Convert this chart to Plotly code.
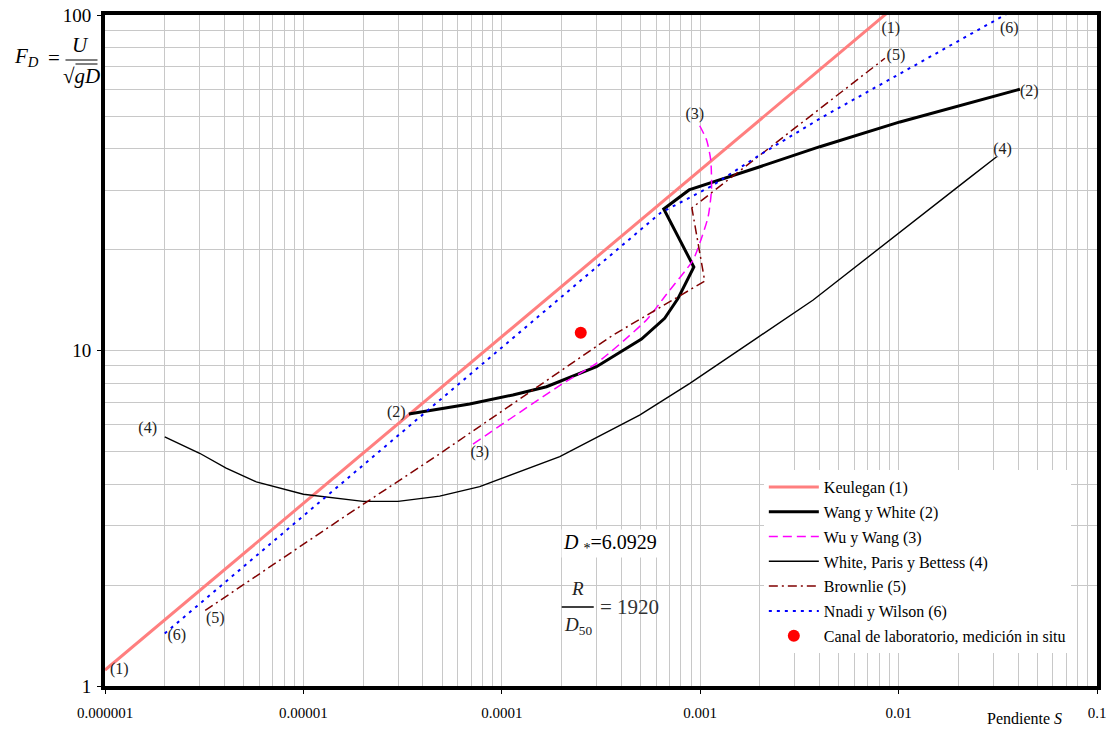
import plotly.graph_objects as go

# Pendiente S (x) y número de Froude densimétrico F_D (y) para cada criterio
keulegan_s = [1.0e-6, 1.0e-2]
keulegan_f = [1.116, 108.3]

wang_white_s = [3.40e-5, 6.89e-5, 1.137e-4, 1.68e-4, 3.00e-4, 5.06e-4, 6.62e-4,
                7.74e-4, 9.29e-4, 6.55e-4, 8.79e-4, 1.117e-3, 2.0e-3, 4.01e-3,
                1.016e-2, 4.09e-2]
wang_white_f = [6.47, 6.93, 7.37, 7.80, 8.95, 10.82, 12.47, 14.31, 17.74, 26.4,
                30.1, 31.5, 35.3, 40.5, 48.0, 60.1]

wu_wang_s = [7.16e-5, 2.04e-4, 3.00e-4, 5.36e-4, 6.72e-4, 9.20e-4, 9.95e-4,
             1.096e-3, 1.14e-3, 1.13e-3, 1.077e-3, 9.84e-4]
wu_wang_f = [5.26, 7.99, 9.16, 12.33, 14.64, 18.6, 20.9, 25.0, 30.1, 37.0, 42.4, 47.3]

wpb_s = [2.0e-6, 3.0e-6, 4.08e-6, 5.79e-6, 1.0e-5, 2.0e-5, 3.0e-5, 4.86e-5, 7.74e-5,
         1.96e-4, 4.95e-4, 8.87e-4, 1.92e-3, 3.71e-3, 2.20e-2, 3.12e-2]
wpb_f = [5.53, 4.94, 4.46, 4.06, 3.73, 3.55, 3.55, 3.68, 3.93, 4.83, 6.42, 7.98,
         10.87, 14.14, 32.2, 37.8]

brownlie_s = [3.2e-6, 1.614e-5, 4.76e-5, 3.64e-4, 1.054e-3, 9.08e-4, 8.53e-3]
brownlie_f = [1.68, 3.20, 4.88, 11.12, 16.1, 26.6, 74.3]

nnadi_s = [2.0e-6, 9.94e-6, 3.56e-5, 3.18e-4, 5.26e-4, 6.3e-4, 1.14e-3, 2.0e-3,
           4.15e-3, 3.64e-2]
nnadi_f = [1.434, 3.20, 6.07, 18.2, 23.4, 25.7, 30.9, 38.3, 49.7, 102.0]

canal_s = [2.5e-4]
canal_f = [11.3]

# Etiquetas numeradas junto a los extremos de cada curva
label_s = [1.18e-6, 9.14e-3, 3.6e-6, 9.69e-3, 2.3e-6, 3.61e-2, 2.94e-5, 4.56e-2,
           7.74e-5, 9.39e-4, 1.64e-6, 3.34e-2]
label_f = [1.116, 90.6, 1.58, 75.5, 1.41, 90.6, 6.50, 59.1, 4.94, 50.4, 5.82, 39.6]
label_txt = ["(1)", "(1)", "(5)", "(5)", "(6)", "(6)", "(2)", "(2)", "(3)", "(3)",
             "(4)", "(4)"]

x_tickvals = [1e-6, 1e-5, 1e-4, 1e-3, 1e-2, 1e-1]
x_ticktext = ["0.000001", "0.00001", "0.0001", "0.001", "0.01", "0.1"]
y_tickvals = [1, 10, 100]
y_ticktext = ["1", "10", "100"]

FONT = "Liberation Serif"

x_minor = [m * 10.0 ** e for e in range(-6, -1) for m in range(2, 10)]
y_minor = [m * 10.0 ** e for e in range(0, 2) for m in range(2, 10)]

fig = go.Figure()

fig.add_trace(go.Scatter(x=keulegan_s, y=keulegan_f, mode="lines",
                         name="Keulegan (1)", legendgroup="1",
                         line=dict(color="#FF7F7F", width=3)))
fig.add_trace(go.Scatter(x=wang_white_s, y=wang_white_f, mode="lines",
                         name="Wang y White (2)", legendgroup="2",
                         line=dict(color="black", width=3)))
fig.add_trace(go.Scatter(x=wu_wang_s, y=wu_wang_f, mode="lines",
                         name="Wu y Wang (3)", legendgroup="3",
                         line=dict(color="#FF00FF", width=1.5, dash="9px,5px",
                                   shape="spline", smoothing=0.6)))
fig.add_trace(go.Scatter(x=wpb_s, y=wpb_f, mode="lines",
                         name="White, Paris y Bettess (4)", legendgroup="4",
                         line=dict(color="black", width=1.4)))
fig.add_trace(go.Scatter(x=brownlie_s, y=brownlie_f, mode="lines",
                         name="Brownlie (5)", legendgroup="5",
                         line=dict(color="#800000", width=1.5, dash="9px,4px,2px,4px")))
fig.add_trace(go.Scatter(x=nnadi_s, y=nnadi_f, mode="lines",
                         name="Nnadi y Wilson (6)", legendgroup="6",
                         line=dict(color="#0000FF", width=2, dash="3px,5px")))
fig.add_trace(go.Scatter(x=canal_s, y=canal_f, mode="markers",
                         name="Canal de laboratorio, medición in situ", legendgroup="7",
                         marker=dict(color="#FF0000", size=12)))
fig.add_trace(go.Scatter(x=label_s, y=label_f, mode="text", text=label_txt,
                         showlegend=False, hoverinfo="skip",
                         textfont=dict(family=FONT, size=16, color="#222222")))

axis_common = dict(
    type="log", showline=True, linewidth=4, linecolor="black", mirror=True,
    ticks="outside", ticklen=4, tickcolor="black", tickwidth=1,
    showgrid=True, gridcolor="#C8C8C8", gridwidth=1, zeroline=False,
    automargin=False,
)

fig.update_xaxes(range=[-6, -1], tickmode="array", tickvals=x_tickvals,
                 ticktext=x_ticktext, ticklabelstandoff=6,
                 tickfont=dict(family=FONT, size=15, color="black"),
                 minor=dict(tickmode="array", tickvals=x_minor, showgrid=True,
                            gridcolor="#C8C8C8", gridwidth=1, ticks=""),
                 **axis_common)
fig.update_yaxes(range=[0, 2], tickmode="array", tickvals=y_tickvals,
                 ticktext=y_ticktext, ticklabelstandoff=2,
                 tickfont=dict(family=FONT, size=19, color="black"),
                 minor=dict(tickmode="array", tickvals=y_minor, showgrid=True,
                            gridcolor="#C8C8C8", gridwidth=1, ticks=""),
                 **axis_common)

def px_x(px):
    return (px - 105.5) / 991.5

def px_y(py):
    return (686 - py) / 671

ann = []
big = dict(family=FONT, size=21, color="black")
# Etiqueta del eje y: F_D = U / sqrt(gD)
ann.append(dict(x=px_x(27), y=px_y(57), text="<i>F<sub>D</sub></i>", font=big))
ann.append(dict(x=px_x(55), y=px_y(58), text="=", font=big))
ann.append(dict(x=px_x(81), y=px_y(45), text="<i>U</i>", font=big))
ann.append(dict(x=px_x(82), y=px_y(76), text="√<i>gD</i>", font=big))
# Título del eje x
ann.append(dict(x=px_x(1025), y=px_y(718), text="Pendiente <i>S</i>",
                font=dict(family=FONT, size=16, color="black")))
# Parámetros del ensayo
ann.append(dict(x=px_x(610), y=px_y(543), text="<i>D</i> <sub>*</sub>=6.0929",
                font=dict(family=FONT, size=20, color="black"), bgcolor="white"))
ann.append(dict(x=px_x(578), y=px_y(588), text="<i>R</i>",
                font=dict(family=FONT, size=19, color="#222222")))
ann.append(dict(x=px_x(578), y=px_y(626), text="<i>D</i><sub>50</sub>",
                font=dict(family=FONT, size=19, color="#222222")))
ann.append(dict(x=px_x(630), y=px_y(607), text="= 1920",
                font=dict(family=FONT, size=21, color="#333333")))
for a in ann:
    a.update(xref="paper", yref="paper", showarrow=False,
             xanchor="center", yanchor="middle")

shapes = [
    # fondo blanco tras la fracción R/D50
    dict(type="rect", xref="paper", yref="paper", x0=px_x(558), x1=px_x(598),
         y0=px_y(645), y1=px_y(572), fillcolor="white", line=dict(width=0),
         layer="below"),
    # barra de fracción R/D50
    dict(type="line", xref="paper", yref="paper", x0=px_x(562), x1=px_x(594),
         y0=px_y(607), y1=px_y(607), line=dict(color="black", width=1.5)),
    # barra de fracción U/sqrt(gD)
    dict(type="line", xref="paper", yref="paper", x0=px_x(66), x1=px_x(98),
         y0=px_y(60), y1=px_y(60), line=dict(color="black", width=1.2)),
    # raya superior del radical sobre gD
    dict(type="line", xref="paper", yref="paper", x0=px_x(76), x1=px_x(98),
         y0=px_y(64), y1=px_y(64), line=dict(color="black", width=1)),
]

fig.update_layout(
    width=1111, height=729,
    margin=dict(l=105, r=14, t=15, b=43),
    paper_bgcolor="white", plot_bgcolor="white",
    font=dict(family=FONT, color="black"),
    annotations=ann, shapes=shapes,
    legend=dict(x=px_x(764), y=px_y(470), xanchor="left", yanchor="top",
                bgcolor="white", borderwidth=0, tracegroupgap=1,
                itemwidth=50,
                font=dict(family=FONT, size=16, color="black")),
)

fig.write_html("out.html")
